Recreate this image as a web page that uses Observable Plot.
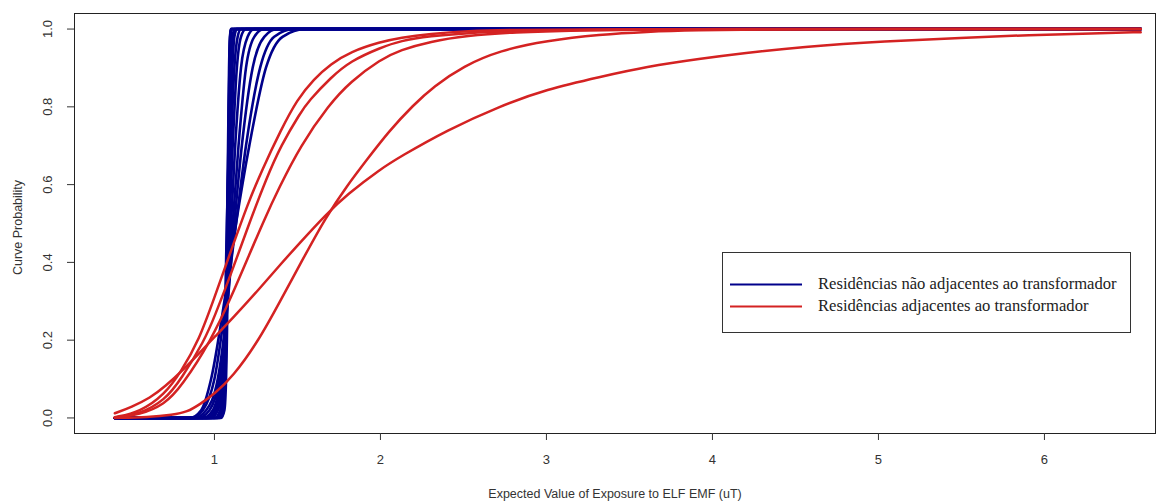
<!DOCTYPE html>
<html><head><meta charset="utf-8">
<script src="https://cdn.jsdelivr.net/npm/d3@7"></script>
<script src="https://cdn.jsdelivr.net/npm/@observablehq/plot@0.6"></script>
<style>body{margin:0;background:#fff;} #chart{width:1169px;height:502px;}</style>
</head><body><div id="chart"></div>
<script>
// ---- data ----
const xTitle = "Expected Value of Exposure to ELF EMF (uT)";
const yTitle = "Curve Probability";
const legendLabels = ["Residências não adjacentes ao transformador", "Residências adjacentes ao transformador"];
const xTicks = [1, 2, 3, 4, 5, 6];
const yTicks = [0, 0.2, 0.4, 0.6, 0.8, 1.0];
const xStart = 0.40, xEnd = 6.58;

// blue curves: x position at each probability level
const blueLevels = [0, 0.02, 0.1, 0.3, 0.5, 0.7, 0.9, 0.98, 1];
const blueCurves = [
  [1.03, 1.05, 1.065, 1.075, 1.08, 1.085, 1.09, 1.095, 1.10],
  [1.04, 1.06, 1.07, 1.078, 1.082, 1.086, 1.09, 1.094, 1.098],
  [1.02, 1.045, 1.06, 1.072, 1.078, 1.084, 1.092, 1.098, 1.105],
  [1.01, 1.04, 1.058, 1.07, 1.076, 1.082, 1.088, 1.094, 1.10],
  [1.00, 1.035, 1.055, 1.07, 1.08, 1.09, 1.10, 1.11, 1.12],
  [0.98, 1.02, 1.05, 1.068, 1.08, 1.092, 1.108, 1.12, 1.135],
  [0.97, 1.02, 1.05, 1.065, 1.075, 1.087, 1.10, 1.115, 1.13],
  [0.96, 1.01, 1.045, 1.07, 1.085, 1.10, 1.12, 1.14, 1.16],
  [0.95, 1.00, 1.04, 1.072, 1.09, 1.11, 1.135, 1.16, 1.19],
  [0.93, 0.99, 1.035, 1.075, 1.10, 1.125, 1.16, 1.20, 1.24],
  [0.90, 0.97, 1.03, 1.08, 1.11, 1.145, 1.19, 1.24, 1.30],
  [0.88, 0.95, 1.02, 1.08, 1.12, 1.165, 1.23, 1.30, 1.38],
  [0.86, 0.93, 1.00, 1.07, 1.13, 1.19, 1.275, 1.36, 1.48],
  [0.85, 0.92, 0.98, 1.06, 1.13, 1.21, 1.31, 1.41, 1.55]
];

// red curves: (x, probability) pairs
const red1X = [0.40, 0.55, 0.70, 0.80, 0.906, 1.0, 1.1, 1.2, 1.287, 1.4, 1.498, 1.6, 1.7, 1.82, 2.0, 2.12, 2.3, 2.52, 2.8, 3.2, 4.0, 5.0, 6.58];
const red1Y = [0.002, 0.015, 0.06, 0.12, 0.199, 0.31, 0.43, 0.55, 0.638, 0.74, 0.819, 0.872, 0.91, 0.942, 0.967, 0.978, 0.988, 0.995, 0.998, 0.999, 1, 1, 1];
const red2X = [0.40, 0.55, 0.70, 0.80, 0.94, 1.0, 1.1, 1.2, 1.317, 1.4, 1.518, 1.568, 1.7, 1.82, 2.0, 2.12, 2.3, 2.52, 2.8, 3.2, 4.0, 5.0, 6.58];
const red2Y = [0.001, 0.01, 0.045, 0.10, 0.199, 0.26, 0.37, 0.49, 0.62, 0.70, 0.785, 0.815, 0.875, 0.918, 0.952, 0.97, 0.982, 0.99, 0.995, 0.998, 1, 1, 1];
const red3X = [0.40, 0.55, 0.70, 0.80, 0.98, 1.1, 1.2, 1.3, 1.387, 1.518, 1.689, 1.82, 2.0, 2.12, 2.3, 2.52, 2.8, 3.2, 3.6, 4.2, 5.0, 6.58];
const red3Y = [0.001, 0.008, 0.035, 0.08, 0.199, 0.31, 0.41, 0.51, 0.59, 0.70, 0.805, 0.865, 0.922, 0.946, 0.968, 0.983, 0.992, 0.997, 0.999, 1, 1, 1];
const red4X = [0.40, 0.60, 0.75, 0.835, 0.916, 1.0, 1.107, 1.267, 1.398, 1.536, 1.669, 1.8, 1.92, 2.05, 2.199, 2.32, 2.5, 2.72, 3.0, 3.325, 3.6, 3.9, 4.3, 5.0, 6.58];
const red4Y = [0.0, 0.002, 0.008, 0.015, 0.036, 0.062, 0.104, 0.199, 0.302, 0.411, 0.515, 0.598, 0.665, 0.737, 0.805, 0.852, 0.905, 0.945, 0.97, 0.986, 0.993, 0.997, 0.999, 1, 1];
const red5X = [0.40, 0.50, 0.614, 0.70, 0.815, 0.916, 1.0, 1.107, 1.277, 1.398, 1.518, 1.669, 1.8, 2.0, 2.12, 2.4, 2.72, 3.0, 3.325, 3.6, 3.93, 4.19, 4.53, 5.05, 5.5, 5.91, 6.3, 6.58];
const red5Y = [0.012, 0.028, 0.052, 0.08, 0.125, 0.17, 0.208, 0.255, 0.335, 0.395, 0.452, 0.522, 0.575, 0.64, 0.672, 0.74, 0.802, 0.845, 0.877, 0.903, 0.924, 0.938, 0.954, 0.969, 0.977, 0.985, 0.989, 0.992];

const blueColor = "#00008b";
const redColor = "#d42222";

// ---- build tables ----
const blueRows = [];
blueCurves.forEach((xs, i) => {
  blueRows.push({id: i, x: xStart, y: 0});
  xs.forEach((x, j) => blueRows.push({id: i, x, y: blueLevels[j]}));
  blueRows.push({id: i, x: xEnd, y: 1});
});
const redRows = [];
[[red1X, red1Y], [red2X, red2Y], [red3X, red3Y], [red4X, red4Y], [red5X, red5Y]].forEach(([xs, ys], i) => {
  xs.forEach((x, j) => redRows.push({id: i, x, y: ys[j]}));
});

const fmt = d3.format(".1f");
const chart = Plot.plot({
  width: 1169, height: 502,
  marginLeft: 74, marginRight: 14, marginTop: 13, marginBottom: 69,
  x: {domain: [0.157, 6.669]},
  y: {domain: [-0.04, 1.04]},
  style: {fontFamily: "'Liberation Sans', Arial, sans-serif", fontSize: "13px", color: "#333", background: "#fff", overflow: "visible"},
  marks: [
    Plot.line(blueRows, {x: "x", y: "y", z: "id", stroke: blueColor, strokeWidth: 2.6, curve: "monotone-x"}),
    Plot.line(redRows, {x: "x", y: "y", z: "id", stroke: redColor, strokeWidth: 2.5, curve: "basis"}),
    Plot.frame({stroke: "#222", strokeWidth: 1}),
    Plot.axisX({ticks: xTicks, tickSize: 7, tickPadding: 14, tickFormat: d => String(d), label: null, stroke: "#333", fill: "#333", fontSize: 13}),
    Plot.axisY({ticks: yTicks, tickSize: 7, tickFormat: () => "", label: null, stroke: "#333"}),
    Plot.text(yTicks, {y: d => d, frameAnchor: "left", dx: -27, rotate: -90, text: d => fmt(d), textAnchor: "middle", lineAnchor: "middle", fill: "#333", fontSize: 13}),
    Plot.text([xTitle], {frameAnchor: "bottom", dy: 60, text: d => d, textAnchor: "middle", lineAnchor: "middle", fill: "#333", fontSize: 12.5}),
    Plot.text([yTitle], {frameAnchor: "left", dx: -57, dy: 4, rotate: -90, text: d => d, textAnchor: "middle", lineAnchor: "middle", fill: "#333", fontSize: 12.5})
  ]
});
document.getElementById("chart").appendChild(chart);

// ---- legend ----
const svg = d3.select(chart);
const lg = svg.append("g").attr("font-family", "'Liberation Serif', 'Times New Roman', serif").attr("font-size", 16.6).attr("text-anchor", "start");
lg.append("rect").attr("x", 722.5).attr("y", 252.5).attr("width", 408).attr("height", 80)
  .attr("fill", "#fff").attr("stroke", "#333").attr("stroke-width", 1);
[blueColor, redColor].forEach((c, i) => {
  const yy = 284.5 + i * 22;
  lg.append("line").attr("x1", 730).attr("x2", 802).attr("y1", yy).attr("y2", yy).attr("stroke", c).attr("stroke-width", 2.2);
  lg.append("text").attr("x", 818).attr("y", yy).attr("dy", "0.3em").attr("fill", "#222").attr("text-anchor", "start").text(legendLabels[i]);
});
</script>
</body></html>
